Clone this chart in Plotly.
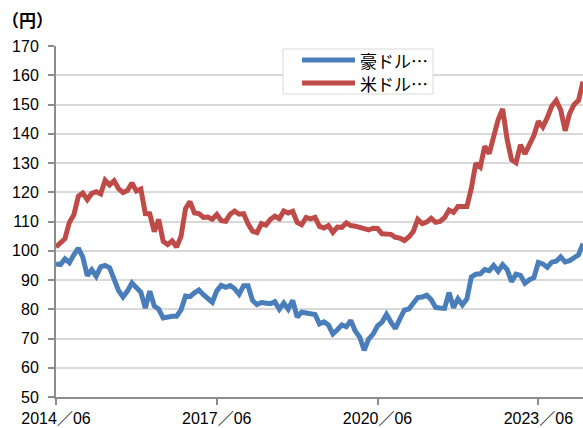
import plotly.graph_objects as go

# Monthly month-end values, 2014/06 .. 2024/04
months = [f"{y}/{m:02d}" for y in range(2014, 2025) for m in range(1, 13)]
months = months[months.index("2014/06"):months.index("2024/04") + 1]

aud_jpy = [
    95.5, 95.3, 97.2, 95.9, 98.6, 100.9, 97.8,
    91.5, 93.5, 91.3, 94.5, 95.0, 94.2, 90.5, 86.4, 84.2, 86.2, 89.0, 87.6,
    85.8, 80.4, 86.2, 81.1, 80.0, 77.0, 77.5, 77.6, 77.6, 79.8, 84.5, 84.3,
    85.6, 86.6, 85.0, 83.4, 82.4, 86.3, 88.2, 87.5, 88.1, 87.0, 85.1, 88.0,
    88.0, 83.0, 81.6, 82.3, 82.2, 81.9, 82.6, 80.0, 82.1, 80.0, 83.0, 77.3,
    79.0, 78.8, 78.7, 78.2, 75.0, 75.7, 74.6, 71.6, 73.0, 74.6, 74.0, 76.2,
    72.6, 70.5, 66.0, 69.8, 71.5, 74.3, 75.6, 78.2, 75.6, 73.4, 76.7, 79.7,
    80.1, 82.2, 84.0, 84.2, 84.8, 83.3, 80.6, 80.4, 80.3, 85.7, 80.6, 83.6,
    81.5, 83.5, 91.0, 92.0, 92.1, 93.6, 93.2, 95.0, 93.0, 95.2, 93.6, 89.4,
    92.0, 91.6, 88.9, 90.1, 90.8, 96.0, 95.5, 94.3, 96.1, 96.4, 97.9, 96.2,
    96.6, 97.6, 98.6, 102.4,
]
usd_jpy = [
    101.3, 102.8, 104.1, 109.7, 112.3, 118.6, 119.7,
    117.5, 119.6, 120.2, 119.4, 124.1, 122.5, 123.9, 121.2, 119.9, 120.6, 123.2, 120.4,
    121.1, 112.7, 112.6, 106.5, 110.7, 103.2, 102.1, 103.4, 101.3, 104.9, 114.4, 116.8,
    112.9, 112.7, 111.4, 111.5, 110.8, 112.4, 110.3, 110.1, 112.5, 113.6, 112.5, 112.7,
    109.2, 106.7, 106.2, 109.3, 108.8, 110.7, 111.8, 111.0, 113.6, 112.9, 113.5, 109.7,
    108.9, 111.4, 110.9, 111.4, 108.3, 107.8, 108.6, 106.3, 108.1, 108.0, 109.5, 108.6,
    108.4, 108.0, 107.8, 107.1, 107.7, 107.6, 105.8, 105.9, 105.6, 104.6, 104.3, 103.5,
    104.7, 106.6, 110.7, 109.3, 109.8, 111.1, 109.7, 110.0, 111.3, 113.9, 113.1, 115.1,
    115.1, 115.1, 121.4, 129.9, 128.6, 135.7, 133.2, 138.9, 144.8, 148.5, 138.1, 131.1,
    130.1, 136.2, 133.1, 136.3, 139.4, 144.3, 142.3, 145.5, 149.4, 151.4, 148.2, 141.0,
    146.9, 150.0, 151.4, 157.8,
]
series_names = ["豪ドル円", "米ドル円"]
legend_labels = ["豪ドル…", "米ドル…"]
series_colors = ["#4A7EBB", "#BE4B48"]
tick_months = ["2014/06", "2017/06", "2020/06", "2023/06"]
tick_labels = ["2014／06", "2017／06", "2020／06", "2023／06"]
y_ticks = list(range(50, 171, 10))

x_idx = list(range(len(months)))
tick_idx = [months.index(t) for t in tick_months]

# figure geometry (body margin removed via post_script)
W, H = 583, 428
ML, MR, MT, MB = 56, 0, 46, 31
PW, PH = W - ML - MR, H - MT - MB


def px(X):  # window pixel x -> paper fraction
    return (X - ML) / PW


def py(Y):  # window pixel y -> paper fraction
    return 1 - (Y - MT) / PH


fig = go.Figure()
for name, vals, col, leg in zip(series_names, [aud_jpy, usd_jpy], series_colors, legend_labels):
    fig.add_trace(go.Scatter(
        x=x_idx, y=vals, mode="lines", name=leg,
        line=dict(color=col, width=5),
        hovertext=[f"{m} {name}: {v}" for m, v in zip(months, vals)],
        hoverinfo="text", showlegend=False,
    ))

tick_font = dict(family="Liberation Sans, Noto Sans CJK JP, Arial", size=16, color="#000000")

shapes = [dict(type="rect", xref="paper", yref="paper",
               x0=px(283), x1=px(433), y0=py(94), y1=py(49),
               line=dict(color="#D9D9D9", width=1), fillcolor="white", layer="above")]
annotations = []
for i, (lab, col) in enumerate(zip(legend_labels, series_colors)):
    yy = 60 + 23 * i
    shapes.append(dict(type="line", xref="paper", yref="paper",
                       x0=px(302), x1=px(355), y0=py(yy), y1=py(yy),
                       line=dict(color=col, width=5), layer="above"))
    annotations.append(dict(text=lab, xref="paper", yref="paper",
                            x=px(358), y=py(yy), xanchor="left", yanchor="middle",
                            showarrow=False,
                            font=dict(family="Noto Sans CJK JP", size=17, color="#000000")))

annotations.append(dict(
    text="<b>（円）</b>", xref="paper", yref="paper",
    x=px(27), y=py(19), xanchor="center", yanchor="middle", showarrow=False,
    font=dict(family="Noto Sans CJK JP", size=17, color="#000000"),
))

fig.update_layout(
    width=W, height=H,
    margin=dict(l=ML, r=MR, t=MT, b=MB, pad=0, autoexpand=False),
    paper_bgcolor="white", plot_bgcolor="white",
    showlegend=False,
    xaxis=dict(
        range=[0, len(months) - 1],
        tickmode="array", tickvals=tick_idx, ticktext=tick_labels,
        showgrid=False, zeroline=False,
        showline=True, linecolor="#8C8C8C", linewidth=2,
        ticks="outside", ticklen=6, tickwidth=1.5, tickcolor="#8C8C8C",
        tickfont=tick_font,
    ),
    yaxis=dict(
        range=[50, 170],
        tickmode="array", tickvals=y_ticks,
        showgrid=True, gridcolor="#D9D9D9", gridwidth=1.5,
        zeroline=False,
        showline=True, linecolor="#8C8C8C", linewidth=2,
        ticks="outside", ticklen=6, tickwidth=1.5, tickcolor="#8C8C8C",
        tickfont=tick_font, ticklabelstandoff=6,
    ),
    shapes=shapes,
    annotations=annotations,
)

fig.write_html(
    "out.html",
    config={"displayModeBar": False},
    post_script="document.body.style.margin='0';document.body.style.overflow='hidden';",
)
